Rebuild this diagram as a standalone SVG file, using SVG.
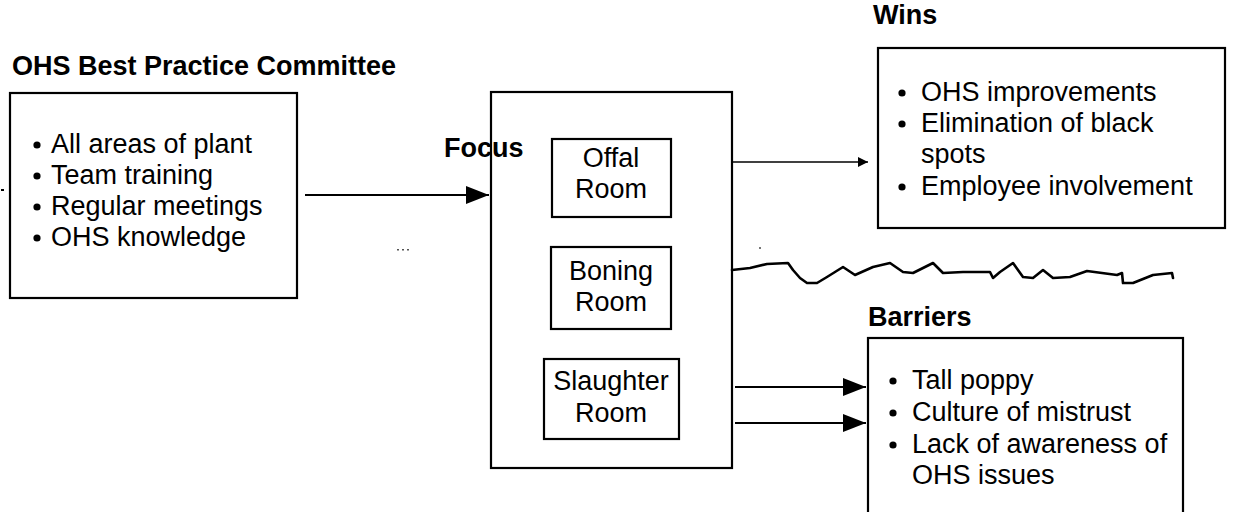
<svg xmlns="http://www.w3.org/2000/svg" width="1241" height="512" viewBox="0 0 1241 512">
<style>
  .box { fill: #fff; stroke: #000; stroke-width: 2.2; }
  .t { font-family: "Liberation Sans", Arial, sans-serif; font-size: 27px; fill: #000; }
  .h { font-family: "Liberation Sans", Arial, sans-serif; font-size: 27px; font-weight: bold; fill: #000; }
  .c { text-anchor: middle; }
  .conn { fill: none; stroke: #000; stroke-width: 2.2; }
  .thin { fill: none; stroke: #000; stroke-width: 1.6; }
  .wave { fill: none; stroke: #000; stroke-width: 2.6; stroke-linejoin: round; stroke-linecap: round; }
  .dot { fill: #000; }
</style>
<defs>
  <marker id="big" markerUnits="userSpaceOnUse" markerWidth="24" markerHeight="18" refX="23" refY="9" orient="auto">
    <path d="M0,0 L23,9 L0,18 z" fill="#000"/>
  </marker>
  <marker id="small" markerUnits="userSpaceOnUse" markerWidth="11" markerHeight="10" refX="10" refY="5" orient="auto">
    <path d="M0,0 L10,5 L0,10 z" fill="#000"/>
  </marker>
</defs>
<rect width="1241" height="512" fill="#fff"/>

<g id="committee">
  <text class="h" x="12" y="75">OHS Best Practice Committee</text>
  <rect class="box" x="10" y="93" width="287" height="205"/>
  <circle class="dot" cx="37" cy="145" r="3.6"/>
  <text class="t" x="51" y="153">All areas of plant</text>
  <circle class="dot" cx="37" cy="176" r="3.6"/>
  <text class="t" x="51" y="184">Team training</text>
  <circle class="dot" cx="37" cy="207" r="3.6"/>
  <text class="t" x="51" y="215">Regular meetings</text>
  <circle class="dot" cx="37" cy="238" r="3.6"/>
  <text class="t" x="51" y="246">OHS knowledge</text>
</g>

<g id="focus">
  <rect class="box" x="491" y="92" width="241" height="376"/>
  <text class="h" x="444" y="157">Focus</text>
</g>

<g id="offal">
  <rect class="box" x="552" y="139" width="119" height="78"/>
  <text class="t c" x="611" y="167">Offal</text>
  <text class="t c" x="611" y="198">Room</text>
</g>

<g id="boning">
  <rect class="box" x="551" y="247" width="120" height="82"/>
  <text class="t c" x="611" y="280">Boning</text>
  <text class="t c" x="611" y="311">Room</text>
</g>

<g id="slaughter">
  <rect class="box" x="544" y="359" width="135" height="80"/>
  <text class="t c" x="611" y="390">Slaughter</text>
  <text class="t c" x="611" y="422">Room</text>
</g>

<g id="wins">
  <text class="h" x="873" y="24">Wins</text>
  <rect class="box" x="878" y="48" width="347" height="180"/>
  <circle class="dot" cx="902" cy="93" r="3.6"/>
  <text class="t" x="921" y="101">OHS improvements</text>
  <circle class="dot" cx="902" cy="124" r="3.6"/>
  <text class="t" x="921" y="132">Elimination of black</text>
  <text class="t" x="921" y="163">spots</text>
  <circle class="dot" cx="902" cy="187" r="3.6"/>
  <text class="t" x="921" y="195">Employee involvement</text>
</g>

<g id="barriers">
  <text class="h" x="868" y="326">Barriers</text>
  <rect class="box" x="868" y="338" width="315" height="190"/>
  <circle class="dot" cx="893" cy="381" r="3.6"/>
  <text class="t" x="912" y="389">Tall poppy</text>
  <circle class="dot" cx="893" cy="413" r="3.6"/>
  <text class="t" x="912" y="421">Culture of mistrust</text>
  <circle class="dot" cx="893" cy="445" r="3.6"/>
  <text class="t" x="912" y="453">Lack of awareness of</text>
  <text class="t" x="912" y="484">OHS issues</text>
</g>

<g id="connectors">
  <line class="conn" x1="305" y1="195" x2="489" y2="195" marker-end="url(#big)"/>
  <line class="thin" x1="732" y1="162" x2="868" y2="162" marker-end="url(#small)"/>
  <line class="conn" x1="735" y1="387" x2="866" y2="387" marker-end="url(#big)"/>
  <line class="conn" x1="735" y1="423" x2="866" y2="423" marker-end="url(#big)"/>
  <polyline class="wave" points="732,270 750,268 767,264 788,263 793,270 800,278 807,283 817,283 827,277 843,267 855,275 873,267 890,263 903,272 913,273 933,263 943,273 963,272 990,272 993,278 1000,272 1013,263 1023,277 1033,278 1043,270 1053,278 1070,277 1087,271 1117,275 1122,273 1123,283 1133,283 1153,275 1172,273 1173,278"/>
</g>

<g id="marks">
  <rect x="1" y="189" width="3" height="2" fill="#000"/>
  <rect x="397" y="249" width="2" height="1.5" fill="#555"/>
  <rect x="402" y="249" width="2" height="1.5" fill="#555"/>
  <rect x="407" y="249" width="2" height="1.5" fill="#555"/>
  <rect x="759" y="247" width="2" height="2" fill="#777"/>
</g>
</svg>
